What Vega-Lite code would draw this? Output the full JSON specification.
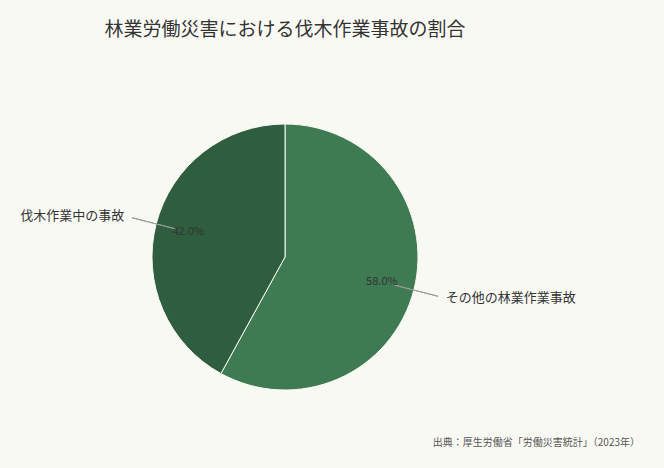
{
  "$schema": "https://vega.github.io/schema/vega-lite/v6.json",
  "width": 570,
  "height": 414,
  "autosize": "none",
  "padding": {"top": 50, "left": 0, "right": 94, "bottom": 4},
  "background": "#f9f9f4",
  "config": {"view": {"stroke": null}, "font": "Noto Sans CJK JP"},
  "title": {
    "text": "林業労働災害における伐木作業事故の割合",
    "font": "Noto Sans CJK JP",
    "fontSize": 19,
    "fontWeight": "normal",
    "color": "#333333",
    "anchor": "middle",
    "offset": 10
  },
  "layer": [
    {
      "data": {"values": [
        {"category": "その他の林業作業事故", "share": 0.58},
        {"category": "伐木作業中の事故", "share": 0.42}
      ]},
      "transform": [
        {"stack": "share", "groupby": [], "sort": [{"field": "share", "order": "descending"}], "as": ["s0", "s1"]},
        {"calculate": "(datum.s0 + datum.s1) / 2", "as": "mid"}
      ],
      "layer": [
        {
          "mark": {"type": "arc", "radius": 133, "stroke": "#f9f9f4", "strokeWidth": 1},
          "encoding": {
            "theta": {"field": "s0", "type": "quantitative", "scale": {"domain": [0, 1]}},
            "theta2": {"field": "s1"},
            "color": {
              "field": "category",
              "type": "nominal",
              "scale": {"domain": ["その他の林業作業事故", "伐木作業中の事故"], "range": ["#3e7b53", "#2e5e3e"]},
              "legend": null
            }
          }
        },
        {
          "mark": {"type": "arc", "radius": 158, "radius2": 113, "fill": "transparent", "stroke": "#9a9a9a", "strokeWidth": 1},
          "encoding": {
            "theta": {"field": "mid", "type": "quantitative"},
            "theta2": {"field": "mid"}
          }
        },
        {
          "mark": {"type": "text", "radius": 100, "fontSize": 11, "fill": "#333333", "align": "center", "baseline": "middle"},
          "encoding": {
            "theta": {"field": "mid", "type": "quantitative"},
            "text": {"field": "share", "type": "quantitative", "format": ".1%"}
          }
        },
        {
          "transform": [{"filter": "datum.category === '伐木作業中の事故'"}],
          "mark": {"type": "text", "radius": 166, "fontSize": 13, "fill": "#333333", "align": "right", "baseline": "middle"},
          "encoding": {
            "theta": {"field": "mid", "type": "quantitative"},
            "text": {"field": "category"}
          }
        },
        {
          "transform": [{"filter": "datum.category === 'その他の林業作業事故'"}],
          "mark": {"type": "text", "radius": 166, "fontSize": 13, "fill": "#333333", "align": "left", "baseline": "middle"},
          "encoding": {
            "theta": {"field": "mid", "type": "quantitative"},
            "text": {"field": "category"}
          }
        }
      ]
    },
    {
      "data": {"values": [{"source": "出典：厚生労働省「労働災害統計」（2023年）"}]},
      "mark": {"type": "text", "fontSize": 10, "fill": "#555555", "align": "right", "baseline": "middle", "dx": 70, "dy": -21},
      "encoding": {
        "x": {"value": "width"},
        "y": {"value": "height"},
        "text": {"field": "source"}
      }
    }
  ]
}
